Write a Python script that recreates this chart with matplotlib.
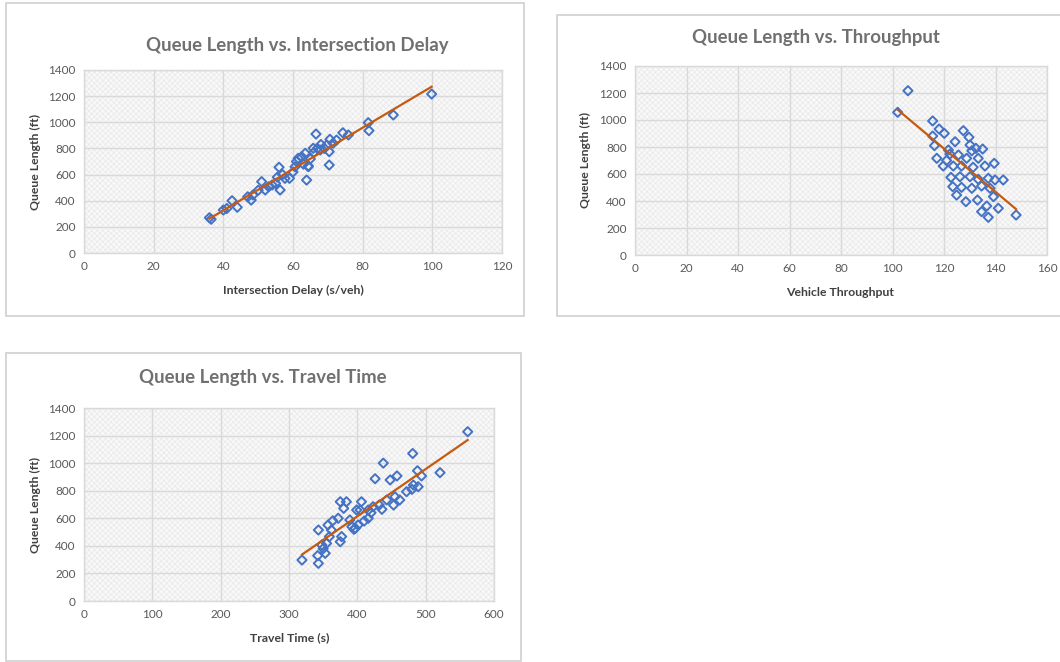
import numpy as np
import matplotlib
matplotlib.use("Agg")
import matplotlib.pyplot as plt
from matplotlib.patches import Rectangle

plt.rcParams['font.family'] = ['Lato', 'DejaVu Sans']
plt.rcParams['hatch.linewidth'] = 0.4

# ---- data -------------------------------------------------------------
delay = [36, 36.5, 40, 41, 42.5, 44, 47, 48, 48.5, 50,
         51, 52, 53, 54, 55, 55.5, 56, 56.3, 57, 57.7,
         59, 60, 60.6, 61.5, 61, 62.5, 63, 63.5, 63.9, 64.4,
         64.4, 65, 65.8, 66, 66.6, 67, 67.8, 68, 69, 69.7,
         70.4, 70.4, 70.6, 71.5, 72.5, 74.3, 75.9, 81.6, 81.8, 88.8,
         99.8]
queue_delay = [270, 258, 329, 340, 400, 350, 430, 405, 444, 480,
               546, 482, 507, 520, 533, 580, 656, 482, 600, 571,
               571, 620, 660, 724, 700, 737, 680, 763, 558, 660,
               666, 720, 801, 770, 910, 800, 788, 830, 800, 826,
               673, 775, 870, 840, 864, 920, 903, 997, 936, 1056,
               1216]

throughput = [106, 102, 115.6, 118.1, 120.1, 115.6, 116.3, 127.5, 129.7, 124.3,
              121.7, 130.1, 132.4, 135, 130.8, 117.2, 122.3, 125.6, 128.8, 133.3,
              119.7, 123.6, 126.8, 131.3, 135.9, 139.5, 122.7, 126.2, 130.1, 133.3,
              137.2, 139.8, 143, 123.4, 126.8, 130.8, 134.6, 137.9, 139.2, 124.9,
              128.5, 133, 136.6, 141.1, 134.6, 137.2, 148, 121]
queue_thru = [1217, 1057, 993, 933, 901, 881, 810, 921, 872, 839,
              778, 815, 790, 785, 772, 716, 748, 741, 716, 716,
              659, 659, 659, 650, 659, 679, 575, 580, 580, 561,
              568, 556, 556, 506, 501, 494, 511, 494, 432, 444,
              395, 407, 363, 346, 321, 279, 296, 700]

travel = [319, 343, 343, 342, 353, 348, 355, 359, 362, 357,
          364, 372, 375, 377, 375, 384, 380, 389, 392, 397,
          401, 399, 406, 404, 416, 416, 423, 426, 438, 432,
          436, 448, 458, 443, 453, 455, 462, 472, 480, 482,
          489, 481, 488, 494, 521, 561.5, 395, 410, 420, 350]
queue_travel = [297, 273, 515, 329, 346, 406, 418, 467, 515, 551,
                582, 600, 430, 467, 720, 720, 672, 588, 539, 527,
                551, 660, 720, 660, 600, 660, 684, 887, 1000, 696,
                665, 878, 907, 733, 696, 756, 733, 793, 810, 841,
                829, 1070, 945, 907, 931, 1228, 520, 580, 640, 380]

panels = [
    dict(x=delay, y=queue_delay, xmax=120, xstep=20,
         title="Queue Length vs. Intersection Delay",
         xlabel="Intersection Delay (s/veh)"),
    dict(x=throughput, y=queue_thru, xmax=160, xstep=20,
         title="Queue Length vs. Throughput",
         xlabel="Vehicle Throughput"),
    dict(x=travel, y=queue_travel, xmax=600, xstep=100,
         title="Queue Length vs. Travel Time",
         xlabel="Travel Time (s)"),
]

# ---- layout (pixels on a 1060 x 662 canvas) -----------------------------
W, H = 1060, 662
frames = [(6, 3, 524, 316), (557, 15, 1062, 316), (6, 353, 521, 661)]
plots = [(84, 70, 502, 253), (635, 66, 1047, 255), (84, 408, 494, 601)]
titles = [(297, 45), (816, 38), (263, 378)]
xlabels = [(293, 290), (840, 292), (290, 638)]
ylabels = [(35, 162), (585, 160), (35, 505)]

GRID = "#d9d9d9"
TICK = "#595959"
BLUE = "#4472c4"
ORANGE = "#c55a11"

fig = plt.figure(figsize=(W / 100, H / 100), dpi=100)

def fx(px):
    return px / W

def fy(py):
    return 1 - py / H

for p, fr, pl, tt, xl, yl in zip(panels, frames, plots, titles, xlabels, ylabels):
    # chart frame
    fig.add_artist(Rectangle((fx(fr[0]), fy(fr[3])), fx(fr[2] - fr[0]), (fr[3] - fr[1]) / H,
                             transform=fig.transFigure, facecolor="white",
                             edgecolor="#d0d0d0", lw=1.2, zorder=0))
    ax = fig.add_axes([fx(pl[0]), fy(pl[3]), fx(pl[2] - pl[0]), (pl[3] - pl[1]) / H])
    ax.set_facecolor("#f8f8f8")
    ax.add_patch(Rectangle((0, 0), 1, 1, transform=ax.transAxes, facecolor="none",
                           edgecolor="#e6e6e6", hatch="xxxxxx", lw=0, zorder=0))
    ax.set_xlim(0, p["xmax"])
    ax.set_ylim(0, 1400)
    ax.set_xticks(np.arange(0, p["xmax"] + 1, p["xstep"]))
    ax.set_yticks(np.arange(0, 1401, 200))
    ax.grid(True, color=GRID, lw=1.0)
    ax.set_axisbelow(True)
    for s in ax.spines.values():
        s.set_color(GRID)
        s.set_linewidth(1.0)
    ax.tick_params(length=0, labelsize=8.5, colors=TICK, pad=6)

    x = np.asarray(p["x"], float)
    y = np.asarray(p["y"], float)
    ax.scatter(x, y, marker="D", s=22, facecolors="none", edgecolors=BLUE,
               linewidths=1.4, zorder=3)
    k, b = np.polyfit(x, y, 1)
    xs = np.array([x.min(), x.max()])
    ax.plot(xs, k * xs + b, color=ORANGE, lw=1.6, zorder=4)

    fig.text(fx(tt[0]), fy(tt[1]), p["title"], ha="center", va="center",
             fontsize=13.4, fontweight="bold", color="#707070")
    fig.text(fx(xl[0]), fy(xl[1]), p["xlabel"], ha="center", va="center",
             fontsize=8.8, fontweight="bold", color="#404040")
    fig.text(fx(yl[0]), fy(yl[1]), "Queue Length (ft)", ha="center", va="center",
             rotation=90, fontsize=8.8, fontweight="bold", color="#404040")

fig.savefig("out.png", dpi=100, facecolor="white")
